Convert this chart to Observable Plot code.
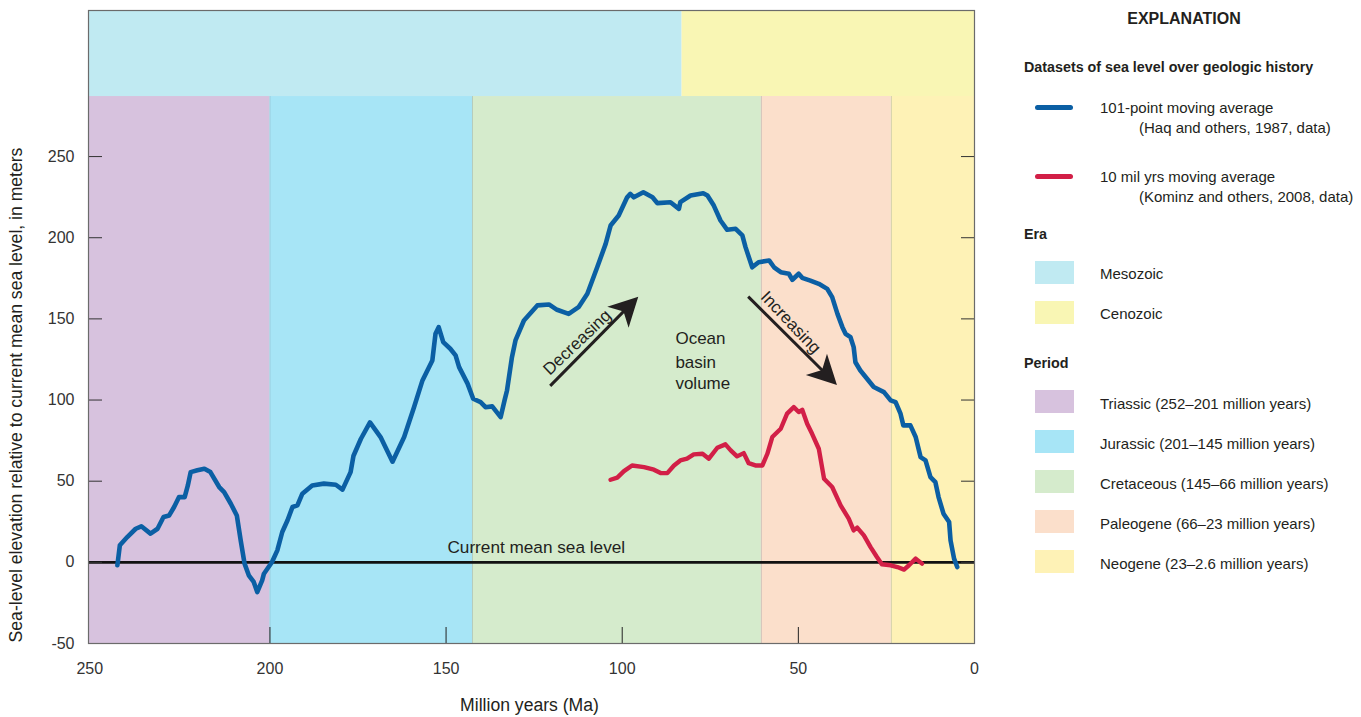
<!DOCTYPE html>
<html><head><meta charset="utf-8">
<script src="https://cdn.jsdelivr.net/npm/d3@7"></script>
<script src="https://cdn.jsdelivr.net/npm/@observablehq/plot@0.6"></script>
<style>
html,body{margin:0;padding:0;background:#fff;}
#wrap{position:relative;width:1361px;height:717px;overflow:hidden;font-family:"Liberation Sans",Arial,sans-serif;color:#231f20;}
#chart{position:absolute;left:0;top:0;}
#legend{position:absolute;left:0;top:0;width:1361px;height:717px;}
.lg{position:absolute;white-space:nowrap;font-size:15px;line-height:1;transform:translateY(-50%);}
.b{font-weight:bold;font-size:14.3px;}
.sw{position:absolute;}
</style></head><body><div id="wrap"><div id="chart"></div><div id="legend"></div></div>
<script>
// ---------- data ----------
const haqAge = [243.3,242.6,240.5,238.1,236.5,233.9,231.9,230.2,228.6,227.2,225.8,224.2,223.3,222.5,220.6,218.6,216.9,214.4,213.0,211.1,209.4,208.3,207.2,206.0,204.6,203.6,202.2,201.7,199.4,197.9,196.5,195.0,193.6,192.2,190.8,188.0,184.7,181.3,179.4,177.1,176.3,174.2,171.6,168.6,165.2,161.9,159.1,156.7,153.9,153.0,152.1,150.8,148.8,147.3,146.3,143.9,142.3,140.2,138.8,136.9,134.5,133.4,132.7,131.3,130.3,127.9,124.1,120.8,118.5,115.2,112.4,109.9,107.1,104.7,103.3,101.0,98.6,97.7,96.7,94.0,91.4,90.0,86.3,83.9,83.5,80.6,77.0,75.8,74.0,72.1,70.2,67.8,65.9,65.0,63.1,61.3,58.3,56.9,55.0,52.7,51.7,49.9,48.9,46.6,44.2,41.8,40.4,38.9,37.5,36.6,35.2,34.3,33.8,32.4,30.5,28.6,25.7,23.8,22.4,21.0,20.2,18.2,16.7,15.3,13.9,12.5,11.1,10.2,8.8,7.2,6.8,5.8,4.9];
const haqLevel = [-1.8,10.5,15.6,20.7,22.2,17.7,20.7,27.9,28.9,34.1,40.2,40.2,47.4,55.6,56.7,57.7,55.6,46.4,43.3,36.1,28.9,13.5,-0.8,-8,-12.1,-18.3,-11.1,-7,0.2,7.4,18.7,25.9,34.1,35.1,42.3,47.4,48.5,47.8,44.8,55.6,65.5,76,86.2,77.2,62,77.2,95.6,112.1,124.4,140.8,144.9,135.7,131.6,127.5,120.3,110.1,100.8,98.7,95.6,96.1,89.5,99.8,105.9,126.4,136.7,149,158.3,158.9,155.6,153.1,157.2,165.5,181.8,196.2,207.5,213.7,224.9,227,224.9,228,224.9,221.3,221.9,217.8,221.9,226,227.4,226,219.8,210.6,204.9,205.5,201.4,194.2,181.8,184.9,186,181.8,178.8,177.8,174.1,177.8,175.3,173.6,171.6,168.5,163.4,153.1,144.9,140.8,138.7,132.6,123.3,118.2,113.1,108,104.9,99.8,98.7,91.6,84.4,84.4,77.2,64.8,62.8,52.5,49.4,40.2,30,24.8,13.5,2.3,-2.9];

const kominzAge = [103.3,101.4,99.5,97.2,93.8,91.0,89.1,87.2,85.3,83.5,81.6,79.7,77.2,75.4,73.0,70.7,69.2,67.4,65.5,64.1,62.2,60.2,58.8,57.4,55.0,53.2,51.3,49.9,48.9,47.5,46.1,44.2,42.7,40.4,38.0,35.7,34.3,33.3,31.4,29.5,27.7,26.3,23.8,21.9,20.0,18.6,16.7,14.9];
const kominzLevel = [50.9,52.2,56.2,59.7,58.7,57.1,55,55,59.7,62.8,63.9,66.5,66.9,63.9,70.6,72.7,69,65.3,67.3,61.1,59.7,59.7,66.9,77.2,82.3,91.6,95.6,92.6,94,85.4,79.2,70,51.5,46.4,35.1,26.9,19.7,21.4,16.6,9.4,3.3,-1.2,-1.8,-2.9,-4.5,-1.8,2.3,-0.8];

const seriesNames = ["101-point moving average", "10 mil yrs moving average"];
const seriesSources = ["(Haq and others, 1987, data)", "(Kominz and others, 2008, data)"];
const seriesColors = ["#0b5fa4", "#d21f47"];

const eraNames = ["Mesozoic", "Cenozoic"];
const eraStart = [251.5, 83.0];
const eraEnd = [83.0, 0];
const eraColors = ["#c0eaf2", "#f9f6b4"];

const periodNames = ["Triassic", "Jurassic", "Cretaceous", "Paleogene", "Neogene"];
const periodLabels = ["Triassic (252–201 million years)", "Jurassic (201–145 million years)", "Cretaceous (145–66 million years)", "Paleogene (66–23 million years)", "Neogene (23–2.6 million years)"];
const periodStart = [251.5, 200, 142.5, 60.5, 23.6];
const periodEnd = [200, 142.5, 60.5, 23.6, 0];
const periodColors = ["#d7c2de", "#a7e5f6", "#d5ebcc", "#fbdfcb", "#fef2b6"];

const xLeft = 251.5;
const bandSplit = 287;     // level where era strip begins
const yTop = 340;
const yBottom = -50;

const xTicksMain = [200, 150, 100, 50, 0];
const xTickEdge = [250];
const xInnerTicks = [200, 150, 100, 50];
const yTicks = [-50, 0, 50, 100, 150, 200, 250];
const yInnerTicks = [0, 50, 100, 150, 200, 250];

const arrowFromAge = [120.3, 64.1];
const arrowFromLevel = [108.4, 163.4];
const arrowToAge = [95.3, 38.9];
const arrowToLevel = [163.4, 109];

const arrowText = ["Decreasing", "Increasing"];
const arrowTextAge = [112.8, 52.2];
const arrowTextLevel = [135.5, 147.8];
const arrowTextRotate = [-43.5, 46.5];

const oceanText = ["Ocean", "basin", "volume"];
const oceanAge = [84.9, 84.9, 84.9];
const oceanLevel = [137.9, 123.3, 110];

const seaLevelText = ["Current mean sea level"];
const seaLevelAge = [124.4];
const seaLevelLevel = [9.4];

const xTitle = "Million years (Ma)";
const yTitle = "Sea-level elevation relative to current mean sea level, in meters";

// ---------- tables ----------
const haq = haqAge.map((a, i) => ({age: a, level: haqLevel[i]}));
const kominz = kominzAge.map((a, i) => ({age: a, level: kominzLevel[i]}));
const eras = eraNames.map((n, i) => ({name: n, start: eraStart[i], end: eraEnd[i], color: eraColors[i]}));
const periods = periodNames.map((n, i) => ({name: n, start: periodStart[i], end: periodEnd[i], color: periodColors[i]}));
const periodBounds = periodStart.slice(1);
const arrowTexts = arrowText.map((t, i) => ({t, age: arrowTextAge[i], level: arrowTextLevel[i], r: arrowTextRotate[i]}));
const oceans = oceanText.map((t, i) => ({t, age: oceanAge[i], level: oceanLevel[i]}));
const seaTexts = seaLevelText.map((t, i) => ({t, age: seaLevelAge[i], level: seaLevelLevel[i]}));

// custom filled arrows, positioned through the plot's scales
function arrowMark(index, scales) {
  const sx = scales.x, sy = scales.y;
  const ns = "http://www.w3.org/2000/svg";
  const g = document.createElementNS(ns, "g");
  arrowFromAge.forEach((_, i) => {
    const x1 = sx(arrowFromAge[i]), y1 = sy(arrowFromLevel[i]);
    const x2 = sx(arrowToAge[i]), y2 = sy(arrowToLevel[i]);
    const len = Math.hypot(x2 - x1, y2 - y1);
    const ux = (x2 - x1) / len, uy = (y2 - y1) / len, nx = -uy, ny = ux;
    const L = 29, HW = 15, N = 21;
    const bx = x2 - L * ux, by = y2 - L * uy;
    const kx = x2 - N * ux, ky = y2 - N * uy;
    const line = document.createElementNS(ns, "line");
    line.setAttribute("x1", x1); line.setAttribute("y1", y1);
    line.setAttribute("x2", kx + 2 * ux); line.setAttribute("y2", ky + 2 * uy);
    line.setAttribute("stroke", "#231f20"); line.setAttribute("stroke-width", 3);
    g.appendChild(line);
    const poly = document.createElementNS(ns, "polygon");
    poly.setAttribute("points", [[x2, y2], [bx + HW * nx, by + HW * ny], [kx, ky], [bx - HW * nx, by - HW * ny]].map(p => p.join(",")).join(" "));
    poly.setAttribute("fill", "#231f20");
    g.appendChild(poly);
  });
  return g;
}

const textFont = "Liberation Sans, Arial, sans-serif";
const fmt = d => String(d);

const chart = Plot.plot({
  width: 990,
  height: 717,
  marginLeft: 88,
  marginRight: 16,
  marginTop: 10,
  marginBottom: 74,
  x: {domain: [xLeft, 0], label: null},
  y: {domain: [yBottom, yTop], label: null},
  style: {fontFamily: textFont, fontSize: "16px", color: "#231f20", background: "transparent"},
  marks: [
    Plot.rect(periods, {x1: "start", x2: "end", y1: yBottom, y2: bandSplit, fill: "color"}),
    Plot.rect(eras, {x1: "start", x2: "end", y1: bandSplit, y2: yTop, fill: "color"}),
    Plot.ruleX(periodBounds, {y1: yBottom, y2: bandSplit, stroke: "#6f8596", strokeOpacity: 0.3}),
    Plot.ruleY([0], {stroke: "#111", strokeWidth: 2.6}),
    Plot.line(haq, {x: "age", y: "level", stroke: seriesColors[0], strokeWidth: 4.6, strokeLinejoin: "round", strokeLinecap: "round"}),
    Plot.line(kominz, {x: "age", y: "level", stroke: seriesColors[1], strokeWidth: 4.4, strokeLinejoin: "round", strokeLinecap: "round"}),
    arrowMark,
    Plot.text(arrowTexts, {x: "age", y: "level", text: "t", rotate: "r", fontSize: 17, fill: "#231f20"}),
    Plot.text(oceans, {x: "age", y: "level", text: "t", textAnchor: "start", fontSize: 17, fill: "#231f20"}),
    Plot.text(seaTexts, {x: "age", y: "level", text: "t", fontSize: 17.2, fill: "#231f20"}),
    Plot.axisY(yTicks, {anchor: "left", tickSize: 0, tickPadding: 14, tickFormat: fmt, label: null, fill: "#333"}),
    Plot.axisY(yInnerTicks, {anchor: "left", tickSize: -14, tickFormat: () => "", label: null, stroke: "#333"}),
    Plot.axisY(yInnerTicks, {anchor: "right", tickSize: -14, tickFormat: () => "", label: null, stroke: "#333"}),
    Plot.axisX(xTicksMain, {anchor: "bottom", tickSize: 0, tickPadding: 19, tickFormat: fmt, label: null, fill: "#333"}),
    Plot.axisX(xTickEdge, {anchor: "bottom", tickSize: 0, tickPadding: 19, tickFormat: fmt, label: null, fill: "#333", dx: -4}),
    Plot.axisX(xInnerTicks, {anchor: "bottom", tickSize: -16, tickFormat: () => "", label: null, stroke: "#222"}),
    Plot.text([yTitle], {frameAnchor: "left", text: d => d, rotate: -90, textAnchor: "middle", lineAnchor: "middle", dx: -72, dy: 68, fontSize: 17.6, fill: "#231f20"}),
    Plot.text([xTitle], {frameAnchor: "bottom", text: d => d, textAnchor: "middle", lineAnchor: "middle", dx: -2, dy: 62, fontSize: 17.6, fill: "#231f20"}),
    Plot.frame({stroke: "#6b6b6b", strokeWidth: 1.2})
  ]
});
document.getElementById("chart").appendChild(chart);

// ---------- legend (HTML) ----------
const lg = document.getElementById("legend");
function addText(txt, left, top, cls) {
  const d = document.createElement("div");
  d.className = "lg" + (cls ? " " + cls : "");
  d.style.left = left + "px"; d.style.top = top + "px";
  d.textContent = txt;
  lg.appendChild(d);
  return d;
}
function addSwatch(color, left, top, w, h, radius) {
  const d = document.createElement("div");
  d.className = "sw";
  d.style.left = left + "px"; d.style.top = top + "px";
  d.style.width = w + "px"; d.style.height = h + "px";
  d.style.background = color;
  if (radius) d.style.borderRadius = radius + "px";
  lg.appendChild(d);
}
const ex = addText("EXPLANATION", 1184, 19, "b");
ex.style.fontSize = "16px";
ex.style.transform = "translate(-50%,-50%)";
addText("Datasets of sea level over geologic history", 1024, 67, "b");
const seriesY = [107, 176];
seriesNames.forEach((n, i) => {
  addSwatch(seriesColors[i], 1035, seriesY[i] - 2.5, 38, 5, 3);
  addText(n, 1100, seriesY[i]);
  addText(seriesSources[i], 1139, seriesY[i] + 19.5);
});
addText("Era", 1024, 234, "b");
const eraY = [272, 312];
eraNames.forEach((n, i) => {
  addSwatch(eraColors[i], 1035, eraY[i] - 11.5, 39, 23);
  addText(n, 1100, eraY[i] + 1);
});
addText("Period", 1024, 363, "b");
const periodY = [401, 441, 481, 521, 561];
periodLabels.forEach((n, i) => {
  addSwatch(periodColors[i], 1035, periodY[i] - 11.5, 39, 23);
  addText(n, 1100, periodY[i] + 1.5);
});
</script>
</body></html>
